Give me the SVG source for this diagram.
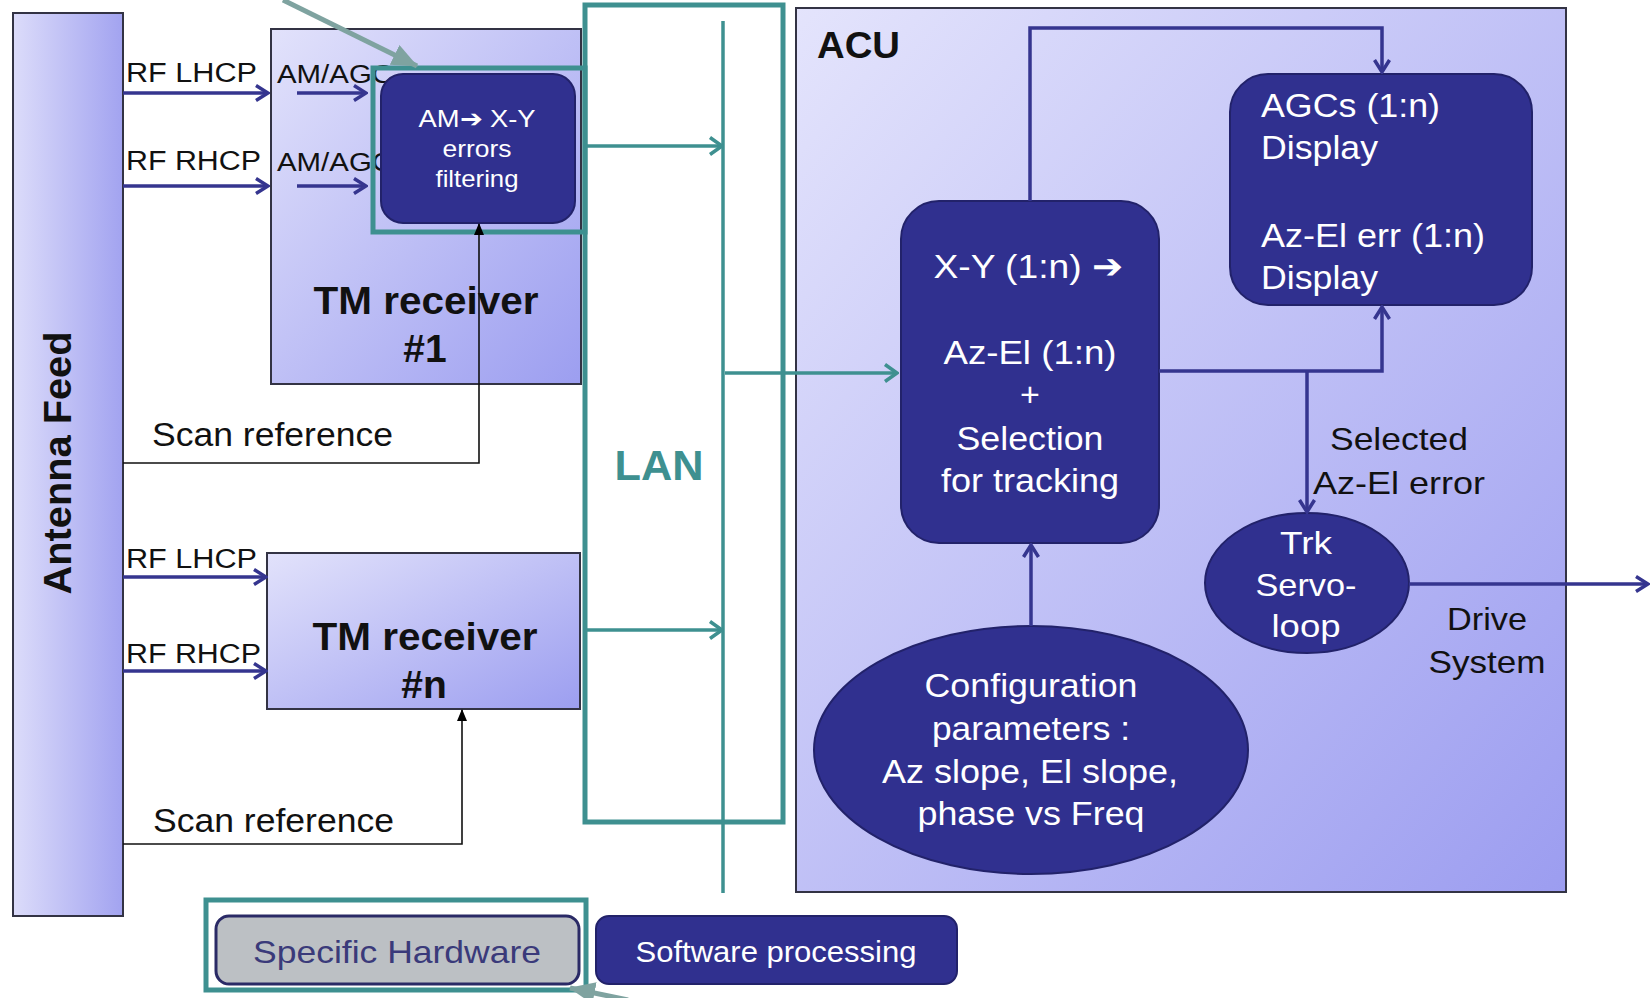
<svg xmlns="http://www.w3.org/2000/svg" width="1651" height="998" viewBox="0 0 1651 998">
<defs>
<linearGradient id="gLight" x1="0" y1="0" x2="1" y2="1">
<stop offset="0" stop-color="#e2e2fb"/>
<stop offset="1" stop-color="#9c9ef0"/>
</linearGradient>
<linearGradient id="gAnt" x1="0" y1="0" x2="1" y2="0">
<stop offset="0" stop-color="#dcdcfa"/>
<stop offset="1" stop-color="#a2a3f0"/>
</linearGradient>
<linearGradient id="gAcu" x1="0" y1="0" x2="1" y2="1">
<stop offset="0" stop-color="#e4e4fc"/>
<stop offset="1" stop-color="#9c9df0"/>
</linearGradient>
<marker id="arrD" viewBox="0 0 16 18" refX="14" refY="9" markerWidth="16" markerHeight="18" orient="auto" markerUnits="userSpaceOnUse">
<path d="M2,1.5 L14,9 L2,16.5" fill="none" stroke="#35358f" stroke-width="3.5"/>
</marker>
<marker id="arrT" viewBox="0 0 16 20" refX="14" refY="10" markerWidth="16" markerHeight="20" orient="auto" markerUnits="userSpaceOnUse">
<path d="M2,1.5 L14,10 L2,18.5" fill="none" stroke="#3e9090" stroke-width="3.5"/>
</marker>
<marker id="arrK" viewBox="0 0 12 10" refX="11" refY="5" markerWidth="12" markerHeight="10" orient="auto" markerUnits="userSpaceOnUse">
<path d="M0,0 L12,5 L0,10 z" fill="#000"/>
</marker>
<marker id="arrG" viewBox="0 0 26 22" refX="25" refY="11" markerWidth="26" markerHeight="22" orient="auto" markerUnits="userSpaceOnUse">
<path d="M0,0 L26,11 L0,22 z" fill="#7fa3a0"/>
</marker>
</defs>
<style>
.t{font-family:"Liberation Sans",Arial,sans-serif;}
.b{font-weight:bold;}
.w{fill:#ffffff;}
.k{fill:#111111;}
.light{fill:url(#gLight);stroke:#333344;stroke-width:2;}
.dark{fill:#30308f;stroke:#22226a;stroke-width:2;}
.hl{fill:none;stroke:#3e9090;stroke-width:5;}
.cd{fill:none;stroke:#35358f;stroke-width:3.5;}
.ct{fill:none;stroke:#3e9090;stroke-width:3.5;}
.ck{fill:none;stroke:#111111;stroke-width:1.6;}
</style>

<g id="antenna-feed">
<rect x="13" y="13" width="110" height="903" fill="url(#gAnt)" stroke="#333344" stroke-width="2"/>
<text class="t b k" font-size="38" text-anchor="middle" transform="translate(71,463) rotate(-90)" textLength="263" lengthAdjust="spacingAndGlyphs">Antenna Feed</text>
</g>

<g id="labels-left">
<text class="t k" x="126" y="82" font-size="27" textLength="131" lengthAdjust="spacingAndGlyphs">RF LHCP</text>
<text class="t k" x="126" y="170" font-size="27" textLength="135" lengthAdjust="spacingAndGlyphs">RF RHCP</text>
<text class="t k" x="126" y="568" font-size="27" textLength="131" lengthAdjust="spacingAndGlyphs">RF LHCP</text>
<text class="t k" x="126" y="663" font-size="27" textLength="135" lengthAdjust="spacingAndGlyphs">RF RHCP</text>
<text class="t k" x="152" y="446" font-size="33" textLength="241" lengthAdjust="spacingAndGlyphs">Scan reference</text>
<text class="t k" x="153" y="832" font-size="33" textLength="241" lengthAdjust="spacingAndGlyphs">Scan reference</text>
</g>

<g id="tm-receiver-1">
<rect class="light" x="271" y="29" width="310" height="355"/>
<text class="t k" x="277" y="83" font-size="25" textLength="116" lengthAdjust="spacingAndGlyphs">AM/AGC</text>
<text class="t k" x="277" y="171" font-size="25" textLength="116" lengthAdjust="spacingAndGlyphs">AM/AGC</text>
<text class="t b k" x="426" y="314" font-size="39" text-anchor="middle" textLength="225" lengthAdjust="spacingAndGlyphs">TM receiver</text>
<text class="t b k" x="425" y="362" font-size="39" text-anchor="middle">#1</text>
</g>

<g id="am-xy-filtering">
<rect class="dark" x="381" y="74" width="194" height="149" rx="22"/>
<text class="t w" x="477" y="127" font-size="24" text-anchor="middle" textLength="117" lengthAdjust="spacingAndGlyphs">AM➔ X-Y</text>
<text class="t w" x="477" y="157" font-size="24" text-anchor="middle" textLength="69" lengthAdjust="spacingAndGlyphs">errors</text>
<text class="t w" x="477" y="187" font-size="24" text-anchor="middle" textLength="83" lengthAdjust="spacingAndGlyphs">filtering</text>
<rect class="hl" x="373" y="68" width="212" height="164"/>
</g>

<g id="tm-receiver-n">
<rect class="light" x="267" y="553" width="313" height="156"/>
<text class="t b k" x="425" y="650" font-size="39" text-anchor="middle" textLength="225" lengthAdjust="spacingAndGlyphs">TM receiver</text>
<text class="t b k" x="424" y="698" font-size="39" text-anchor="middle">#n</text>
</g>

<g id="lan">
<rect class="hl" x="585" y="5" width="198" height="817"/>
<line x1="723" y1="21" x2="723" y2="893" stroke="#3e9090" stroke-width="3.5"/>
<text class="t b" x="659" y="480" font-size="42" fill="#3e9090" text-anchor="middle" textLength="89" lengthAdjust="spacingAndGlyphs">LAN</text>
</g>

<g id="acu">
<rect x="796" y="8" width="770" height="884" fill="url(#gAcu)" stroke="#333344" stroke-width="2"/>
<text class="t b k" x="817" y="58" font-size="36" textLength="83" lengthAdjust="spacingAndGlyphs">ACU</text>
</g>

<g id="xy-azel-selection">
<rect class="dark" x="901" y="201" width="258" height="342" rx="38"/>
<text class="t w" x="1028" y="278" font-size="34" text-anchor="middle" textLength="189" lengthAdjust="spacingAndGlyphs">X-Y (1:n) ➔</text>
<text class="t w" x="1030" y="364" font-size="34" text-anchor="middle" textLength="173" lengthAdjust="spacingAndGlyphs">Az-El (1:n)</text>
<text class="t w" x="1030" y="406" font-size="34" text-anchor="middle">+</text>
<text class="t w" x="1030" y="450" font-size="34" text-anchor="middle" textLength="147" lengthAdjust="spacingAndGlyphs">Selection</text>
<text class="t w" x="1030" y="492" font-size="34" text-anchor="middle" textLength="178" lengthAdjust="spacingAndGlyphs">for tracking</text>
</g>

<g id="agc-display">
<rect class="dark" x="1230" y="74" width="302" height="231" rx="38"/>
<text class="t w" x="1261" y="117" font-size="33" textLength="179" lengthAdjust="spacingAndGlyphs">AGCs (1:n)</text>
<text class="t w" x="1261" y="159" font-size="33" textLength="117" lengthAdjust="spacingAndGlyphs">Display</text>
<text class="t w" x="1261" y="247" font-size="33" textLength="224" lengthAdjust="spacingAndGlyphs">Az-El err (1:n)</text>
<text class="t w" x="1261" y="289" font-size="33" textLength="117" lengthAdjust="spacingAndGlyphs">Display</text>
</g>

<g id="trk-servo-loop">
<ellipse class="dark" cx="1307" cy="583" rx="102" ry="70"/>
<text class="t w" x="1306" y="554" font-size="32" text-anchor="middle" textLength="52" lengthAdjust="spacingAndGlyphs">Trk</text>
<text class="t w" x="1306" y="596" font-size="32" text-anchor="middle" textLength="101" lengthAdjust="spacingAndGlyphs">Servo-</text>
<text class="t w" x="1306" y="637" font-size="32" text-anchor="middle" textLength="69" lengthAdjust="spacingAndGlyphs">loop</text>
</g>

<g id="configuration-parameters">
<ellipse class="dark" cx="1031" cy="750" rx="217" ry="124"/>
<text class="t w" x="1031" y="697" font-size="33" text-anchor="middle" textLength="213" lengthAdjust="spacingAndGlyphs">Configuration</text>
<text class="t w" x="1031" y="740" font-size="33" text-anchor="middle" textLength="198" lengthAdjust="spacingAndGlyphs">parameters :</text>
<text class="t w" x="1030" y="783" font-size="33" text-anchor="middle" textLength="296" lengthAdjust="spacingAndGlyphs">Az slope, El slope,</text>
<text class="t w" x="1031" y="825" font-size="33" text-anchor="middle" textLength="227" lengthAdjust="spacingAndGlyphs">phase vs Freq</text>
</g>

<g id="labels-acu">
<text class="t k" x="1399" y="450" font-size="32" text-anchor="middle" textLength="138" lengthAdjust="spacingAndGlyphs">Selected</text>
<text class="t k" x="1399" y="494" font-size="32" text-anchor="middle" textLength="172" lengthAdjust="spacingAndGlyphs">Az-El error</text>
<text class="t k" x="1487" y="630" font-size="32" text-anchor="middle" textLength="80" lengthAdjust="spacingAndGlyphs">Drive</text>
<text class="t k" x="1487" y="673" font-size="32" text-anchor="middle" textLength="117" lengthAdjust="spacingAndGlyphs">System</text>
</g>

<g id="legend">
<rect x="216" y="916" width="363" height="68" rx="13" fill="#bcc0c4" stroke="#2a2a66" stroke-width="3"/>
<text class="t" x="397" y="963" font-size="32" fill="#3a3a7a" text-anchor="middle" textLength="288" lengthAdjust="spacingAndGlyphs">Specific Hardware</text>
<rect class="hl" x="206" y="900" width="380" height="90"/>
<rect class="dark" x="596" y="916" width="361" height="68" rx="13"/>
<text class="t w" x="776" y="962" font-size="29" text-anchor="middle" textLength="281" lengthAdjust="spacingAndGlyphs">Software processing</text>
</g>

<g id="connectors">
<line class="cd" x1="123" y1="93" x2="268" y2="93" marker-end="url(#arrD)"/>
<line class="cd" x1="123" y1="186" x2="268" y2="186" marker-end="url(#arrD)"/>
<line class="cd" x1="297" y1="93" x2="366" y2="93" marker-end="url(#arrD)"/>
<line class="cd" x1="297" y1="186" x2="366" y2="186" marker-end="url(#arrD)"/>
<line class="cd" x1="123" y1="577" x2="266" y2="577" marker-end="url(#arrD)"/>
<line class="cd" x1="123" y1="671" x2="266" y2="671" marker-end="url(#arrD)"/>
<polyline class="ck" points="123,463 479,463 479,224" marker-end="url(#arrK)"/>
<polyline class="ck" points="123,844 462,844 462,710" marker-end="url(#arrK)"/>
<line class="ct" x1="585" y1="146" x2="722" y2="146" marker-end="url(#arrT)"/>
<line class="ct" x1="587" y1="630" x2="722" y2="630" marker-end="url(#arrT)"/>
<line class="ct" x1="725" y1="373" x2="897" y2="373" marker-end="url(#arrT)"/>
<polyline class="cd" points="1030,201 1030,28 1382,28 1382,72" marker-end="url(#arrD)"/>
<polyline class="cd" points="1159,371 1382,371 1382,307" marker-end="url(#arrD)"/>
<line class="cd" x1="1307" y1="371" x2="1307" y2="512" marker-end="url(#arrD)"/>
<line class="cd" x1="1031" y1="626" x2="1031" y2="545" marker-end="url(#arrD)"/>
<line class="cd" x1="1409" y1="584" x2="1648" y2="584" marker-end="url(#arrD)"/>
<line x1="283" y1="0" x2="417" y2="66" stroke="#7fa3a0" stroke-width="5" marker-end="url(#arrG)"/>
<line x1="628" y1="1000" x2="570" y2="988" stroke="#7fa3a0" stroke-width="5" marker-end="url(#arrG)"/>
</g>
</svg>
